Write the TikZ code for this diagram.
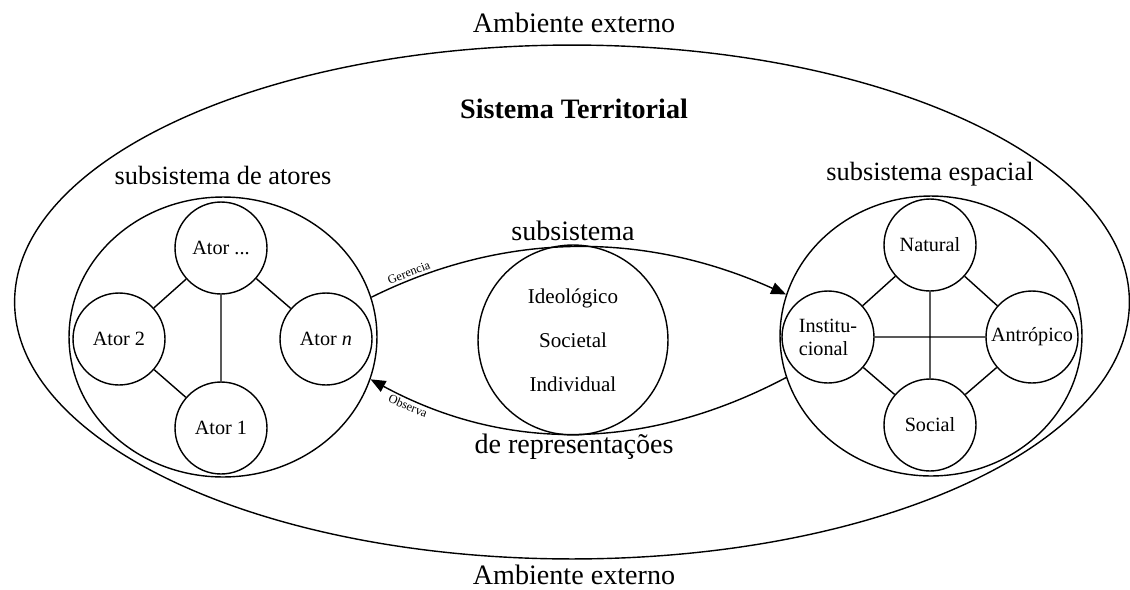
\documentclass[tikz,border=0pt]{standalone}
\usepackage{fontspec}
\setmainfont{Liberation Serif}
\usetikzlibrary{arrows.meta,shapes.geometric}

\tikzset{
  sys/.style={draw,ellipse,inner sep=0pt},
  ator/.style={draw,circle,minimum size=1.84cm,inner sep=0pt,font=\fontsize{11.5}{13}\selectfont},
  titulo/.style={font=\fontsize{16}{19}\selectfont,anchor=base},
  seta/.style={-{Triangle[length=3mm,width=2.4mm]}},
  verbo/.style={font=\fontsize{7}{8}\selectfont,sloped,inner sep=1.5pt}
}

\begin{document}
\begin{tikzpicture}[x=0.02cm,y=-0.02cm,line width=0.8pt]
\useasboundingbox (0,0) rectangle (1130,589);
\node[sys,minimum width=22.3cm,minimum height=10.28cm] (amb) at (572,302) {};
\node[titulo] (ambN) at (574,32) {Ambiente externo};
\node[titulo] (ambS) at (574,584) {Ambiente externo};
\node[titulo,font=\fontsize{16}{19}\selectfont\bfseries] (st) at (574,118) {Sistema Territorial};

\node[sys,minimum width=6.16cm,minimum height=5.6cm] (atores) at (223,337) {};
\node[titulo,font=\fontsize{15}{18}\selectfont] (tatores) at (223,184) {subsistema de atores};
\node[ator] (aX) at (221,248) {Ator ...};
\node[ator] (a2) at (119,339) {Ator 2};
\node[ator] (an) at (326,339) {Ator \textit{n}};
\node[ator] (a1) at (221,428) {Ator 1};
\draw (aX) -- (a2) (aX) -- (an) (aX) -- (a1) (a2) -- (a1);

\node[sys,minimum width=6.04cm,minimum height=5.6cm] (espacial) at (931,336) {};
\node[titulo,font=\fontsize{15}{18}\selectfont] (tespacial) at (930,180) {subsistema espacial};
\node[ator] (nat) at (930,245) {Natural};
\node[ator,align=left] (inst) at (828,337) {Institu-\\cional};
\node[ator] (antr) at (1032,337) {Antrópico};
\node[ator] (soc) at (930,425) {Social};
\draw (nat) -- (inst) (nat) -- (antr) (nat) -- (soc)
      (inst) -- (antr) (inst) -- (soc) (antr) -- (soc);

\node[draw,circle,minimum size=3.8cm,inner sep=0pt,align=center,
      font=\fontsize{12}{25}\selectfont] (repr) at (573,340) {Ideológico\\Societal\\Individual};
\node[titulo] (trepr1) at (573,240) {subsistema};
\node[titulo] (trepr2) at (574,453) {de representações};

\draw[seta] (atores.15.6) .. controls (505,231) and (645,231) .. (espacial.164.5)
  node[verbo,pos=0.1,above] {Gerencia};
\draw[seta] (espacial.196.9) .. controls (645,452) and (505,452) .. (atores.-16.7)
  node[verbo,pos=0.9,below] {Observa};
\end{tikzpicture}
\end{document}
